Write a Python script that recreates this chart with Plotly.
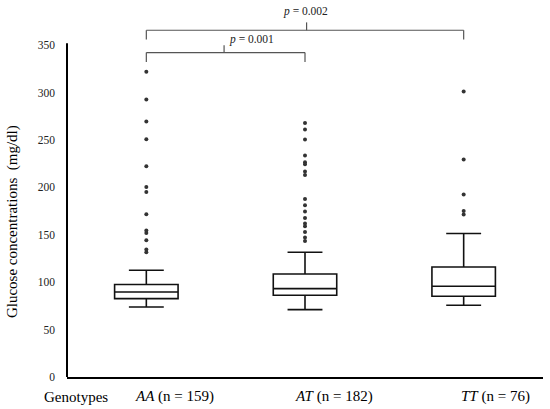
import plotly.graph_objects as go

# ---- data ----
genotypes = ["AA", "AT", "TT"]
counts = [159, 182, 76]
q1 = [82.7, 86.2, 85.1]
median = [89.7, 93.2, 95.7]
q3 = [97.5, 108.7, 116.0]
lowerfence = [73.8, 71.1, 75.6]
upperfence = [112.6, 131.5, 151.3]
outliers_AA = [322, 292.6, 269.4, 250.7, 222.3, 200.4, 195.2, 171.6, 154.4, 151.9, 144.2, 134.4, 131.5]
outliers_AT = [268, 261, 250.4, 233.5, 226.5, 224.4, 216.7, 213.1, 187.8, 181.1, 174.5, 167.7,
               161.8, 159, 153, 147, 143.5]
outliers_TT = [301, 229.3, 192.4, 175.1, 171.3]
outliers = [outliers_AA, outliers_AT, outliers_TT]
y_ticks = [0, 50, 100, 150, 200, 250, 300, 350]
p_labels = ["<i>p</i> = 0.001", "<i>p</i> = 0.002"]

FONT = "Liberation Serif"
pos = list(range(len(genotypes)))

fig = go.Figure()
fig.add_trace(go.Box(
    x=pos, q1=q1, median=median, q3=q3,
    lowerfence=lowerfence, upperfence=upperfence,
    boxpoints=False, width=0.4, whiskerwidth=0.55,
    fillcolor="white", line=dict(color="#111111", width=1.6),
    showlegend=False, hoverinfo="skip",
))
ox, oy = [], []
for i, vals in enumerate(outliers):
    ox += [pos[i]] * len(vals)
    oy += vals
fig.add_trace(go.Scatter(
    x=ox, y=oy, mode="markers",
    marker=dict(color="#333333", size=4),
    showlegend=False, hoverinfo="skip",
))

shapes = []
# y axis line (only up to ~352)
shapes.append(dict(type="line", xref="paper", yref="y", x0=0, x1=0, y0=0, y1=352,
                   line=dict(color="black", width=2)))
# brackets
br_col = "#555555"
def bracket(xa, xb, ytop, ydrop, xmid, ymid):
    return [
        dict(type="line", xref="x", yref="y", x0=xa, x1=xb, y0=ytop, y1=ytop, line=dict(color=br_col, width=1.2)),
        dict(type="line", xref="x", yref="y", x0=xa, x1=xa, y0=ytop, y1=ydrop, line=dict(color=br_col, width=1.2)),
        dict(type="line", xref="x", yref="y", x0=xb, x1=xb, y0=ytop, y1=ydrop, line=dict(color=br_col, width=1.2)),
        dict(type="line", xref="x", yref="y", x0=xmid, x1=xmid, y0=ytop, y1=ymid, line=dict(color=br_col, width=1.2)),
    ]
shapes += bracket(pos[0], pos[1], 342.2, 332.3, 0.49, 349.9)
shapes += bracket(pos[0], pos[2], 365.7, 355.9, 1.01, 374.0)

annotations = [
    dict(text=p_labels[0], x=0.665, y=355.5, xref="x", yref="y", showarrow=False,
         font=dict(family=FONT, size=11.5, color="#222")),
    dict(text=p_labels[1], x=1.0, y=386, xref="x", yref="y", showarrow=False,
         font=dict(family=FONT, size=11.5, color="#222")),
    dict(text="Glucose concentrations  (mg/dl)", textangle=-90, x=-0.114, y=0.415,
         xref="paper", yref="paper", showarrow=False, xanchor="center", yanchor="middle",
         font=dict(family=FONT, size=15, color="black")),
    dict(text="Genotypes", x=0.019, y=-0.053, xref="paper", yref="paper", showarrow=False,
         xanchor="center", yanchor="middle", font=dict(family=FONT, size=15, color="black")),
]
label_offsets = [0.175, 0.18, 0.2]
for i, g in enumerate(genotypes):
    annotations.append(dict(
        text=f"<i>{g}</i> (n = {counts[i]})", x=pos[i] + label_offsets[i], y=-0.053,
        xref="x", yref="paper", showarrow=False, xanchor="center", yanchor="middle",
        font=dict(family=FONT, size=15, color="black")))

fig.update_layout(
    width=550, height=409,
    margin=dict(l=67, r=7, t=2, b=32),
    font=dict(family=FONT),
    plot_bgcolor="white", paper_bgcolor="white",
    shapes=shapes, annotations=annotations,
    xaxis=dict(range=[-0.5, 2.5], showticklabels=False, showgrid=False, zeroline=False,
               showline=True, linecolor="black", linewidth=2, ticks=""),
    yaxis=dict(range=[0, 395.5], tickvals=y_ticks, showgrid=False, zeroline=False,
               showline=False, ticks="", ticklabelstandoff=11,
               tickfont=dict(family=FONT, size=11.5, color="#222")),
)
fig.write_html("out.html", config={"displayModeBar": False},
               post_script="document.body.style.margin='0';document.body.style.overflow='hidden';")
